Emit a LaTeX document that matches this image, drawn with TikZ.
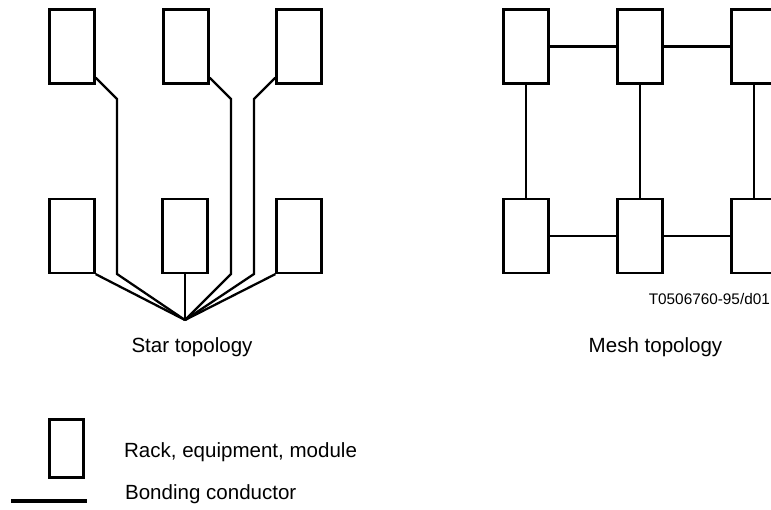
\documentclass[tikz,border=0pt]{standalone}
\usepackage{fontspec}
\setmainfont{Liberation Sans}
\usetikzlibrary{calc}
\begin{document}
\begin{tikzpicture}[x=0.75pt,y=-0.75pt,line width=1.7pt,
rack/.style={draw,line width=1.7pt,minimum width=33.8pt,minimum height=55.5pt,inner sep=0pt},
lbl/.style={font=\fontsize{15.4}{18}\selectfont,inner sep=0pt}]
\useasboundingbox(0,0)rectangle(771,510);
% star topology
\node[rack](s1) at(72,46.5){};
\node[rack](s2) at(186,46.5){};
\node[rack](s3) at(299,46.5){};
\node[rack](s4) at(72,236){};
\node[rack](s5) at(185,236){};
\node[rack](s6) at(299,236){};
\coordinate(hub) at(185,320);
\draw($(s1.south east)+(0,-7)$)--(117,99)--(117,274)--(hub);
\draw($(s2.south east)+(0,-7)$)--(231,99)--(231,274)--(hub);
\draw($(s3.south west)+(0,-7)$)--(254,99)--(254,274)--(hub);
\draw(s4.south east)--(hub);
\draw(s5.south)--(hub);
\draw(s6.south west)--(hub);
\node[lbl,anchor=base](star) at(192,352){Star topology};
% mesh topology
\node[rack](m1) at(526,46.5){};
\node[rack](m2) at(640,46.5){};
\node[rack](m3) at(754,46.5){};
\node[rack](m4) at(526,236){};
\node[rack](m5) at(640,236){};
\node[rack](m6) at(754,236){};
\draw(m1)--(m2);\draw(m2)--(m3);
\draw(m4)--(m5);\draw(m5)--(m6);
\draw(m1)--(m4);\draw(m2)--(m5);\draw(m3)--(m6);
\node[font=\fontsize{11.5}{14}\selectfont,inner sep=0pt,anchor=base east](ref) at(771,304){T0506760-95/d01};
\node[lbl,anchor=base](mesh) at(655.5,352){Mesh topology};
% legend
\node[rack,minimum width=25.5pt,minimum height=43.5pt](key) at(66.5,448.5){};
\node[lbl,anchor=base west](keytext) at(123,457){Rack, equipment, module};
\coordinate(w1) at(11,501);
\coordinate(w2) at(87,501);
\draw[line width=2.4pt](w1)--(w2);
\node[lbl,anchor=base west](wiretext) at(124,499){Bonding conductor};
\end{tikzpicture}
\end{document}
